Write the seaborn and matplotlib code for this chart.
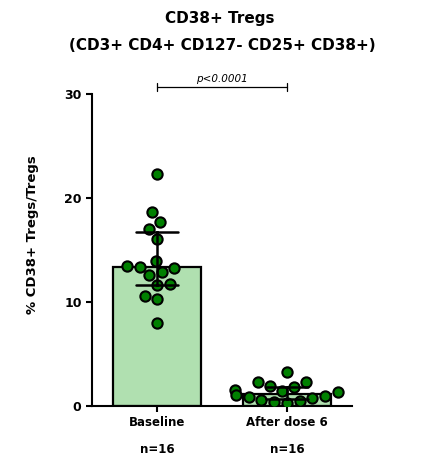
import numpy as np
import pandas as pd
import matplotlib
matplotlib.use("Agg")
import matplotlib.pyplot as plt
import seaborn as sns

# Percentage of CD38+ cells among Tregs, one value per patient
groups = ["Baseline", "After dose 6"]
n_labels = ["n=16", "n=16"]
baseline = [22.3, 18.65, 17.7, 17.0, 16.05, 13.97, 12.9, 13.4, 13.3, 13.46,
            12.6, 11.73, 11.63, 10.58, 10.26, 7.95]
after_dose6 = [3.25, 2.35, 2.3, 1.9, 1.8, 1.5, 1.4, 1.3, 1.1, 1.0,
               0.85, 0.75, 0.6, 0.5, 0.4, 0.3]
yticks = [0, 10, 20, 30]
p_text = "p<0.0001"

df = pd.DataFrame({
    "group": [groups[0]] * len(baseline) + [groups[1]] * len(after_dose6),
    "value": baseline + after_dose6,
})

sns.set_theme(style="ticks")
plt.rcParams["font.family"] = ["DejaVu Sans"]
plt.rcParams["font.weight"] = "bold"
plt.rcParams["text.color"] = "black"
plt.rcParams["axes.labelcolor"] = "black"
plt.rcParams["xtick.color"] = "black"
plt.rcParams["ytick.color"] = "black"

fig = plt.figure(figsize=(4.23, 4.68), dpi=100)
ax = fig.add_axes([92 / 423, 62 / 468, 260 / 423, 312 / 468])


def iqr(x):
    return (np.percentile(x, 25, method="weibull"),
            np.percentile(x, 75, method="weibull"))


sns.barplot(data=df, x="group", y="value", order=groups,
            estimator=np.median, errorbar=iqr, capsize=0.33,
            color="#b0e0b0", saturation=1, width=0.67,
            edgecolor="black", linewidth=1.6,
            err_kws={"color": "black", "linewidth": 1.8}, ax=ax)
for ln in ax.lines:
    ln.set_zorder(6)

sns.swarmplot(data=df, x="group", y="value", order=groups,
              color="#008000", edgecolor="black", linewidth=1.5,
              size=7.4, ax=ax, zorder=4)

ax.set_xlim(-0.5, 1.5)
ax.set_ylim(0, 30)
ax.set_yticks(yticks)
ax.set_yticklabels([str(t) for t in yticks], fontsize=9, fontweight="bold")
ax.set_xticks([0, 1])
ax.set_xticklabels([f"{g}\n{n}" for g, n in zip(groups, n_labels)],
                   fontsize=8.5, fontweight="bold", linespacing=2.4)
ax.set_xlabel("")
ax.set_ylabel("% CD38+ Tregs/Tregs", fontsize=9.5, fontweight="bold")
ax.yaxis.set_label_coords(-0.205, 0.55)

for side in ("left", "bottom"):
    ax.spines[side].set_linewidth(1.5)
    ax.spines[side].set_color("black")
sns.despine(ax=ax)
ax.tick_params(axis="both", length=4.5, width=1.5, colors="black", pad=3)

# significance bracket
yb = 30.67
ax.plot([0, 1], [yb, yb], color="black", lw=0.9, clip_on=False)
for xe in (0, 1):
    ax.plot([xe, xe], [yb - 0.4, yb + 0.4], color="black", lw=0.9, clip_on=False)
ax.text(0.5, yb + 0.25, p_text, ha="center", va="bottom", fontsize=7.5,
        fontstyle="italic", fontweight="normal", color="black")

fig.text(220 / 423, 1 - 18 / 468, "CD38+ Tregs", ha="center", va="center",
         fontsize=11, fontweight="bold", color="black")
fig.text(222 / 423, 1 - 46 / 468, "(CD3+ CD4+ CD127- CD25+ CD38+)",
         ha="center", va="center", fontsize=11, fontweight="bold", color="black")

fig.savefig("out.png", dpi=100)
